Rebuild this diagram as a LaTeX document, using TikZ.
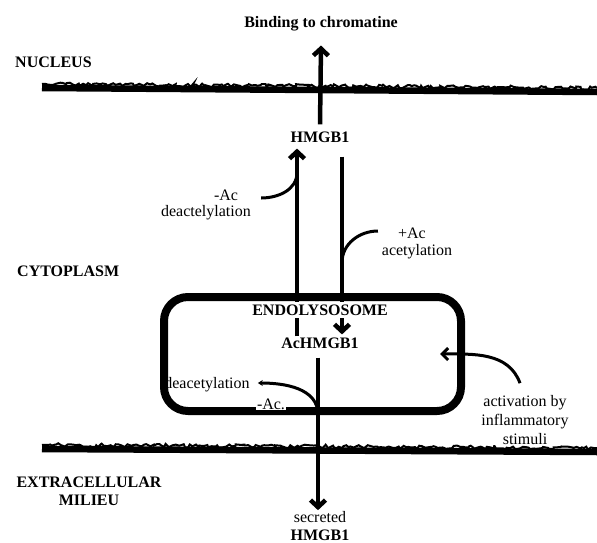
\documentclass[tikz,border=0pt]{standalone}
\usepackage{fontspec}
\setmainfont{Liberation Serif}
\usetikzlibrary{arrows.meta,positioning,decorations.pathmorphing}
\pgfdeclarelayer{back}
\pgfsetlayers{back,main}
\tikzset{
  lbl/.style={inner sep=0pt, font=\fontsize{16}{18}\selectfont},
  blbl/.style={lbl, font=\fontsize{16}{18}\selectfont\bfseries},
  membrane/.style={line width=6.5pt},
  roughedge/.style={line width=2pt, decorate,
    decoration={random steps, segment length=2.5pt, amplitude=1.8pt}},
  vesicle/.style={draw, line width=8pt, rounded corners=24pt,
    minimum width=297pt, minimum height=114pt},
  bigarr/.style={-{Straight Barb[length=7pt,width=15pt]}, line width=4.5pt},
  curvearr/.style={line width=3pt},
  smallarr/.style={curvearr, -{Straight Barb[length=6pt,width=12pt]}}
}
\pgfmathsetseed{11}

\begin{document}
\begin{tikzpicture}[x=1pt,y=-1pt]
  \useasboundingbox (0,0) rectangle (597,543);
  % labels of the compartments
  \node[blbl, anchor=west] (nucleus) at (15,62) {NUCLEUS};
  \node[blbl, anchor=west] (cyto) at (17,271) {CYTOPLASM};
  \node[blbl, align=center] (milieu) at (89,491) {EXTRACELLULAR\\MILIEU};
  % nodes on the path
  \node[blbl] (bind) at (321,24) {Binding to chromatine};
  \node[blbl] (top) at (320,137) {HMGB1};
  \node[vesicle] (endo) at (312.5,354) {};
  \node[blbl, fill=white, inner sep=2.5pt] (endolbl) at (320,310) {ENDOLYSOSOME};
  \node[blbl] (ac) at (320,343) {AcHMGB1};
  \node[lbl, align=center] (secr) at (320,526) {secreted\\\textbf{HMGB1}};
  % side labels
  \node[lbl] (minusac) at (226,195) {-Ac};
  \node[lbl] (deactel) at (206,213) {deactelylation};
  \node[lbl] (plusac) at (412,233) {+Ac};
  \node[lbl] (acetyl) at (417,252) {acetylation};
  \node[lbl] (deacet) at (207,385) {deacetylation};
  \node[lbl, fill=white, inner sep=1pt] (minusacdot) at (271,404) {-Ac.};
  \node[lbl, align=center, fill=white, font=\fontsize{16}{19}\selectfont] (act) at (525,420)
    {activation by\\inflammatory\\stimuli};

  \begin{pgfonlayer}{back}
    % membranes
    \draw[membrane] (42,88) -- (597,92);
    \draw[roughedge] (42,84) -- (597,88);
    \draw[membrane] (42,449) -- (597,452);
    \draw[roughedge] (42,445) -- (597,448);
    % arrows
    \draw[bigarr] ([yshift=7pt]top.north) -- ([yshift=-14pt]bind.south);
    \draw[bigarr] ([xshift=-23pt,yshift=1pt]ac.north) -- ([xshift=-23pt,yshift=-6pt]top.south);
    \draw[bigarr] ([xshift=22pt,yshift=-14pt]top.south) -- ([xshift=22pt,yshift=3pt]ac.north);
    \draw[bigarr] ([xshift=-2pt,yshift=-9pt]ac.south) -- ([xshift=-2pt,yshift=1pt]secr.north);
    \draw[curvearr] ([xshift=23pt,yshift=-3pt]minusac.east) to[out=0,in=-90]
      ([xshift=-23pt,yshift=-30pt]top.south);
    \draw[curvearr] ([xshift=-20pt,yshift=2pt]plusac.west) to[out=180,in=90]
      ([xshift=22pt,yshift=-120pt]top.south);
    \draw[curvearr, {Stealth[length=5pt,width=6pt]}-] ([xshift=8pt,yshift=2pt]deacet.east)
      to[out=0,in=90] ([xshift=-2pt,yshift=-66pt]ac.south);
    \draw[smallarr] ([xshift=-5pt,yshift=12pt]act.north) to[out=110,in=0]
      ([xshift=-25pt]endo.east);
  \end{pgfonlayer}
\end{tikzpicture}
\end{document}
